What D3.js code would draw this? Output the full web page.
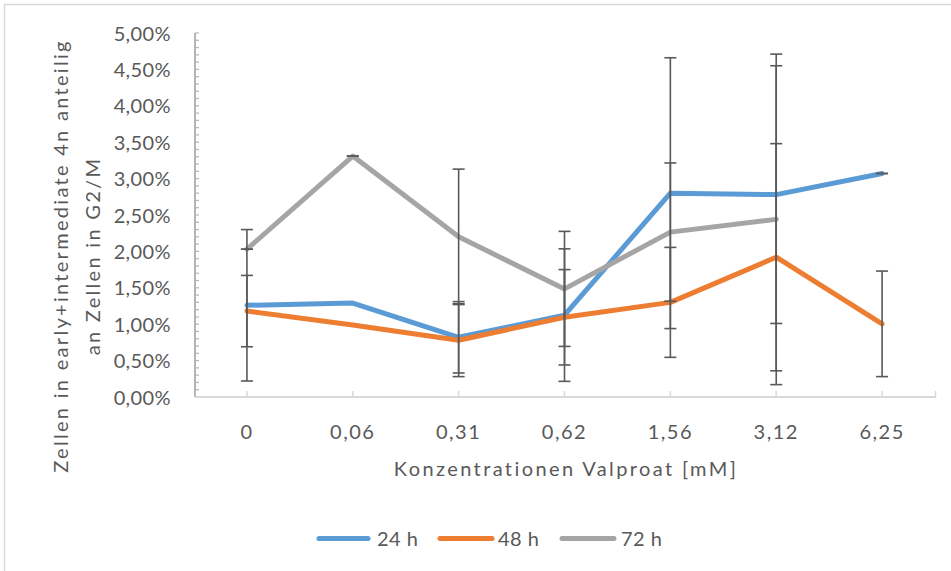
<!DOCTYPE html>
<html>
<head>
<meta charset="utf-8">
<script src="https://cdn.jsdelivr.net/npm/d3@7/dist/d3.min.js"></script>
<style>
  html, body { margin: 0; padding: 0; background: #fff; }
  svg { display: block; }
  text { font-family: Lato, "Open Sans", sans-serif; fill: #595959; }
</style>
</head>
<body>
<svg id="chart" width="951" height="571"></svg>
<script>
// Valproat concentrations (mM) on the category axis
const categories = ["0", "0,06", "0,31", "0,62", "1,56", "3,12", "6,25"];

// Share of early+intermediate 4n cells among G2/M cells, in %
const values24 = [1.26, 1.29, 0.82, 1.125, 2.80, 2.78, 3.07];
const values48 = [1.18, 0.99, 0.78, 1.095, 1.30, 1.92, 1.005];
const values72 = [2.03, 3.31, 2.20, 1.485, 2.265, 2.44, null];

// Symmetric error (± %), null where no bar is drawn
const err24 = [1.04, null, 0.49, 0.91, 1.86, 1.77, 0];
const err48 = [0.49, null, 0.50, 0.655, 0.755, 1.56, 0.725];
const err72 = [0, 0, 0.93, 0.79, 0.95, 2.27, null];

const seriesNames = ["24 h", "48 h", "72 h"];
const seriesColors = ["#5B9BD5", "#ED7D31", "#A5A5A5"];

const yTicks = [0, 0.5, 1, 1.5, 2, 2.5, 3, 3.5, 4, 4.5, 5];

const series = [
  { name: seriesNames[0], color: seriesColors[0], values: values24, err: err24 },
  { name: seriesNames[1], color: seriesColors[1], values: values48, err: err48 },
  { name: seriesNames[2], color: seriesColors[2], values: values72, err: err72 }
];

const svg = d3.select("#chart");

// outer chart frame
svg.append("rect")
  .attr("x", 4.5).attr("y", 4.5)
  .attr("width", 960).attr("height", 600)
  .attr("fill", "none").attr("stroke", "#d9d9d9").attr("stroke-width", 1.5);

const plotLeft = 195, plotRight = 935, plotTop = 33, plotBottom = 397;

const x = d3.scaleBand().domain(categories).range([194, 935]).padding(0);
const cx = c => x(c) + x.bandwidth() / 2;
const y = d3.scaleLinear().domain([0, 5]).range([plotBottom, plotTop]);

const deLocale = d3.formatLocale({ decimal: ",", thousands: ".", grouping: [3], currency: ["", " €"] });
const pct = v => deLocale.format(".2f")(v) + "%";

// value axis: line with minor ticks on the inside
const yAxisG = svg.append("g");
yAxisG.append("line")
  .attr("x1", plotLeft).attr("x2", plotLeft)
  .attr("y1", y(5)).attr("y2", plotBottom)
  .attr("stroke", "#b4b4b4").attr("stroke-width", 2);
yAxisG.selectAll("line.minor")
  .data(d3.range(0, 51).map(i => i / 10))
  .join("line")
  .attr("class", "minor")
  .attr("x1", plotLeft).attr("x2", plotLeft + 4)
  .attr("y1", d => y(d)).attr("y2", d => y(d))
  .attr("stroke", "#b4b4b4").attr("stroke-width", 1.2);

const yAxis = d3.axisLeft(y).tickValues(yTicks).tickFormat(pct).tickSize(0).tickPadding(0);
const yLabels = svg.append("g").attr("transform", `translate(171,0)`).call(yAxis);
yLabels.select(".domain").remove();
yLabels.selectAll("text")
  .style("font-family", "Lato, sans-serif")
  .style("font-size", "20px")
  .style("letter-spacing", "0.4px")
  .attr("fill", "#595959")
  .attr("dy", "0.35em");

// category axis
const xAxisG = svg.append("g");
xAxisG.append("line")
  .attr("x1", plotLeft).attr("x2", plotRight + 1)
  .attr("y1", plotBottom).attr("y2", plotBottom)
  .attr("stroke", "#d9d9d9").attr("stroke-width", 2);
xAxisG.selectAll("line.tick")
  .data(categories.map(cx).concat([plotRight + 0.5]))
  .join("line")
  .attr("class", "tick")
  .attr("x1", d => d).attr("x2", d => d)
  .attr("y1", plotBottom).attr("y2", plotBottom - 6)
  .attr("stroke", "#d9d9d9").attr("stroke-width", 1.5);

const xAxis = d3.axisBottom(x).tickSize(0).tickPadding(0);
const xLabels = svg.append("g").attr("transform", `translate(0,${plotBottom})`).call(xAxis);
xLabels.select(".domain").remove();
xLabels.selectAll("text")
  .style("font-family", "Lato, sans-serif")
  .style("font-size", "20px")
  .style("letter-spacing", "1.5px")
  .attr("fill", "#595959")
  .attr("dy", null)
  .attr("y", 42);

// lines
const line = d3.line()
  .defined(d => d.v !== null)
  .x(d => cx(d.c))
  .y(d => y(d.v));

series.forEach(s => {
  svg.append("path")
    .datum(categories.map((c, i) => ({ c, v: s.values[i] })))
    .attr("d", line)
    .attr("fill", "none")
    .attr("stroke", s.color)
    .attr("stroke-width", 5)
    .attr("stroke-linejoin", "round")
    .attr("stroke-linecap", "round");
});

// error bars
const capHalf = 6;
series.forEach(s => {
  const pts = categories.map((c, i) => ({ c, v: s.values[i], e: s.err[i] }))
    .filter(d => d.v !== null && d.e !== null);
  const g = svg.append("g").attr("stroke", "#595959").attr("stroke-width", 1.6);
  pts.forEach(d => {
    const xc = cx(d.c);
    const yHi = y(d.v + d.e), yLo = y(d.v - d.e);
    g.append("line").attr("x1", xc).attr("x2", xc).attr("y1", yHi).attr("y2", yLo);
    g.append("line").attr("x1", xc - capHalf).attr("x2", xc + capHalf).attr("y1", yHi).attr("y2", yHi);
    g.append("line").attr("x1", xc - capHalf).attr("x2", xc + capHalf).attr("y1", yLo).attr("y2", yLo);
  });
});

// axis titles
svg.append("text")
  .attr("x", 566).attr("y", 476)
  .attr("text-anchor", "middle")
  .style("font-size", "20px")
  .style("letter-spacing", "2.4px")
  .text("Konzentrationen Valproat [mM]");

const yTitle = svg.append("text")
  .attr("transform", "translate(68,256) rotate(-90)")
  .attr("text-anchor", "middle")
  .style("font-size", "20px")
  .style("letter-spacing", "2.3px");
yTitle.append("tspan").attr("x", 0).attr("y", 0).text("Zellen in early+intermediate 4n anteilig");
yTitle.append("tspan").attr("x", 0).attr("y", 32).text("an Zellen in G2/M");

// legend
const legendItems = [
  { x1: 317, x2: 370, tx: 377 },
  { x1: 438, x2: 494, tx: 498 },
  { x1: 560, x2: 616, tx: 621 }
];
const legend = svg.append("g");
series.forEach((s, i) => {
  const li = legendItems[i];
  legend.append("line")
    .attr("x1", li.x1 + 2).attr("x2", li.x2 - 2)
    .attr("y1", 538.5).attr("y2", 538.5)
    .attr("stroke", s.color).attr("stroke-width", 5)
    .attr("stroke-linecap", "round");
  legend.append("text")
    .attr("x", li.tx).attr("y", 546)
    .style("font-size", "20px")
    .style("letter-spacing", "0.5px")
    .text(s.name);
});
</script>
</body>
</html>
